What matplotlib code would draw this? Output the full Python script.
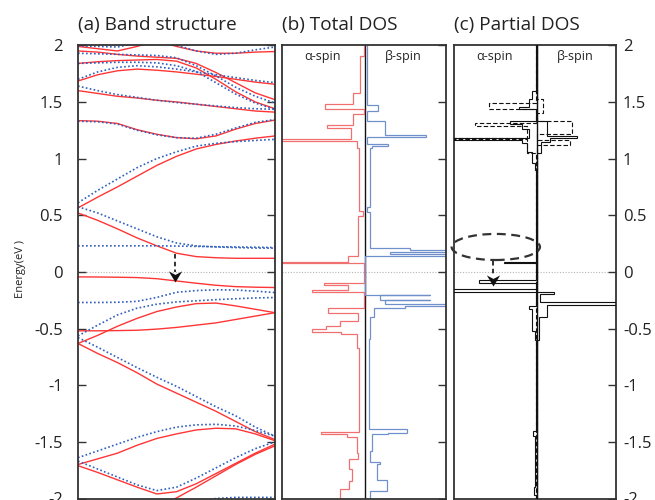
import matplotlib
matplotlib.use("Agg")
import matplotlib.pyplot as plt
from matplotlib.path import Path
from matplotlib.patches import Ellipse

plt.rcParams['font.family'] = ['Open Sans', 'DejaVu Sans']
plt.rcParams['axes.unicode_minus'] = False

# ---------------- band structure (k along path, energies in eV) ----------------
k_path = [0.0, 0.1, 0.2, 0.3, 0.4, 0.5, 0.6, 0.7, 0.8, 0.9, 1.0]

bands_up = [
    [1.99, 1.97, 1.95, 1.99, 2.04, 1.99, 1.95, 1.93, 1.93, 1.94, 1.945],
    [1.95, 1.94, 1.92, 1.905, 1.895, 1.885, 1.84, 1.76, 1.67, 1.58, 1.52],
    [1.84, 1.855, 1.865, 1.87, 1.875, 1.86, 1.80, 1.70, 1.59, 1.50, 1.44],
    [1.685, 1.74, 1.775, 1.79, 1.78, 1.765, 1.745, 1.725, 1.70, 1.675, 1.656],
    [1.60, 1.575, 1.55, 1.535, 1.515, 1.50, 1.48, 1.46, 1.44, 1.42, 1.41],
    [1.335, 1.33, 1.31, 1.255, 1.215, 1.185, 1.175, 1.20, 1.26, 1.31, 1.34],
    [0.565, 0.66, 0.75, 0.845, 0.94, 1.02, 1.085, 1.125, 1.155, 1.18, 1.20],
    [0.52, 0.455, 0.38, 0.30, 0.23, 0.165, 0.135, 0.125, 0.12, 0.12, 0.12],
    [-0.044, -0.045, -0.047, -0.05, -0.06, -0.08, -0.10, -0.118, -0.13, -0.135, -0.138],
    [-0.632, -0.56, -0.48, -0.41, -0.35, -0.31, -0.28, -0.275, -0.30, -0.33, -0.36],
    [-0.52, -0.52, -0.518, -0.515, -0.505, -0.49, -0.47, -0.45, -0.42, -0.39, -0.36],
    [-0.632, -0.72, -0.80, -0.89, -0.99, -1.07, -1.15, -1.23, -1.32, -1.41, -1.48],
    [-1.70, -1.65, -1.60, -1.53, -1.47, -1.43, -1.395, -1.38, -1.385, -1.43, -1.49],
    [-1.71, -1.77, -1.835, -1.90, -1.96, -1.94, -1.87, -1.78, -1.69, -1.60, -1.52],
    [-2.3, -2.25, -2.2, -2.15, -2.08, -1.995, -1.90, -1.80, -1.70, -1.61, -1.535],
]

bands_down = [
    [1.995, 1.99, 1.985, 2.02, 2.04, 2.0, 1.95, 1.92, 1.93, 1.96, 1.985],
    [1.93, 1.925, 1.92, 1.915, 1.91, 1.89, 1.82, 1.73, 1.63, 1.55, 1.49],
    [1.70, 1.765, 1.805, 1.82, 1.81, 1.79, 1.765, 1.74, 1.715, 1.69, 1.67],
    [1.84, 1.845, 1.85, 1.85, 1.845, 1.82, 1.77, 1.67, 1.57, 1.49, 1.435],
    [1.64, 1.60, 1.565, 1.54, 1.515, 1.495, 1.48, 1.465, 1.45, 1.44, 1.435],
    [1.33, 1.325, 1.305, 1.25, 1.21, 1.185, 1.18, 1.215, 1.27, 1.32, 1.345],
    [0.61, 0.72, 0.82, 0.92, 1.0, 1.06, 1.11, 1.135, 1.15, 1.16, 1.17],
    [0.575, 0.52, 0.45, 0.38, 0.31, 0.255, 0.23, 0.22, 0.215, 0.21, 0.21],
    [0.23, 0.23, 0.23, 0.23, 0.23, 0.228, 0.225, 0.222, 0.22, 0.218, 0.215],
    [-0.27, -0.27, -0.268, -0.26, -0.225, -0.18, -0.165, -0.158, -0.16, -0.17, -0.182],
    [-0.565, -0.47, -0.38, -0.32, -0.285, -0.265, -0.255, -0.245, -0.237, -0.23, -0.226],
    [-0.58, -0.665, -0.755, -0.845, -0.93, -1.01, -1.10, -1.19, -1.27, -1.37, -1.45],
    [-1.64, -1.58, -1.52, -1.46, -1.41, -1.37, -1.35, -1.345, -1.36, -1.40, -1.45],
    [-1.67, -1.74, -1.81, -1.88, -1.93, -1.90, -1.82, -1.73, -1.64, -1.56, -1.50],
    [-2.1, -2.1, -2.08, -2.06, -2.05, -2.04, -2.02, -2.0, -1.99, -1.99, -1.99],
]

# ---------------- total DOS (step histograms, arbitrary units) ----------------
tdos_up_edges = [2.0, 1.905, 1.58, 1.48, 1.435, 1.39, 1.30, 1.27, 1.17, 1.155, 1.09,
                 0.54, 0.49, 0.14, 0.085, 0.075, -0.094, -0.115, -0.162, -0.18, -0.315,
                 -0.365, -0.43, -0.475, -0.505, -0.53, -0.55, -0.675, -1.415, -1.43,
                 -1.46, -1.595, -1.65, -1.74, -1.845, -1.92, -2.0]
tdos_up = [0.12, 0.61, 1.43, 4.88, 0.18, 1.43, 4.6, 1.71, 10.5, 0.94, 0.73, 0.21, 0.85,
           2.04, 10.5, 0.09, 4.96, 2.04, 6.43, 0.09, 4.48, 0.89, 3.05, 4.76, 6.5, 2.93,
           0.94, 0.7, 5.37, 2.23, 1.01, 0.82, 1.95, 1.62, 1.95, 3.05]

tdos_dn_edges = [2.0, 1.72, 1.47, 1.42, 1.33, 1.21, 1.19, 1.13, 1.11, 1.09, 0.57, 0.53,
                 0.21, 0.19, 0.175, 0.16, 0.14, -0.20, -0.205, -0.245, -0.25, -0.285,
                 -0.30, -0.315, -0.40, -0.59, -1.39, -1.42, -1.435, -1.58, -1.68, -1.695,
                 -1.84, -1.93, -2.0]
tdos_dn = [0.28, 0.21, 1.62, 0.21, 2.44, 7.44, 0.21, 2.8, 0.82, 0.61, 0.21, 0.61, 5.49,
           10.5, 3.05, 10.5, 0.04, 7.93, 1.83, 7.93, 2.44, 10.5, 4.88, 1.1, 0.61, 0.52,
           5.12, 2.8, 0.89, 0.61, 1.83, 1.43, 2.65, 0.61]

# ---------------- partial DOS (two projections, solid / dashed) ----------------
pdos_up_a_edges = [2.0, 1.60, 1.53, 1.455, 1.44, 1.335, 1.305, 1.26, 1.185, 1.165, 1.135,
                   1.06, 0.96, 0.90, 0.09, 0.075, -0.075, -0.10, -0.155, -0.18, -0.30,
                   -0.33, -0.52, -0.60, -1.40, -1.45, -1.90, -1.97, -2.0]
pdos_up_a = [0.06, 0.61, 0.98, 2.2, 0.1, 3.29, 1.83, 0.98, 10.5, 1.83, 1.22, 0.61, 0.24,
             0.06, 4.02, 0.06, 7.07, 0.06, 10.5, 0.06, 0.98, 0.61, 0.24, 0.12, 0.49,
             0.18, 0.37, 0.12]
pdos_up_b_edges = [2.0, 1.49, 1.44, 1.315, 1.285, 1.185, 1.17, 1.05, -2.0]
pdos_up_b = [0.04, 5.85, 0.04, 7.56, 1.22, 10.5, 1.22, 0.04]

pdos_dn_a_edges = [2.0, 1.335, 1.20, 1.18, 1.15, 1.05, -0.18, -0.195, -0.265, -0.29,
                   -0.40, -0.60, -2.0]
pdos_dn_a = [0.06, 1.22, 4.88, 1.59, 0.49, 0.06, 2.07, 0.37, 10.5, 1.22, 0.24, 0.06]
pdos_dn_b_edges = [2.0, 1.53, 1.40, 1.33, 1.22, 1.16, 1.12, -2.0]
pdos_dn_b = [0.04, 0.73, 0.04, 4.27, 0.04, 4.02, 0.04]

e_ticks = [-2, -1.5, -1, -0.5, 0, 0.5, 1, 1.5, 2]
e_tick_labels = ['-2', '-1.5', '-1', '-0.5', '0', '0.5', '1', '1.5', '2']

# ---------------- figure ----------------
W, H = 655, 500
fig = plt.figure(figsize=(W / 100, H / 100), dpi=100)

def box(x0, x1, ytop=45.3, ybot=498.5):
    return [x0 / W, 1 - ybot / H, (x1 - x0) / W, (ybot - ytop) / H]

ax_a = fig.add_axes(box(78, 275))
ax_b = fig.add_axes(box(282.3, 445.7))
ax_c = fig.add_axes(box(454.3, 616))

frame_col = '#333333'
text_col = '#222222'

for ax in (ax_a, ax_b, ax_c):
    ax.set_ylim(-2, 2)
    ax.set_yticks(e_ticks)
    for sp in ax.spines.values():
        sp.set_color(frame_col)
        sp.set_linewidth(1.3)
    ax.set_xticks([])
    ax.tick_params(axis='y', direction='in', length=5.8, width=1.0, color=frame_col,
                   labelsize=12, labelcolor=text_col)
    ax.axhline(0, color='#b5b5b5', lw=0.8, ls=(0, (1, 1.5)), zorder=0)

# (a) band structure
ax_a.set_xlim(0, 1)
ax_a.tick_params(axis='y', left=True, right=True, labelleft=True, labelright=False, pad=11)
ax_a.set_yticklabels(e_tick_labels)
for b in bands_up:
    ax_a.plot(k_path, b, color='#ff3535', lw=1.0, solid_joinstyle='round')
for b in bands_down:
    ax_a.plot(k_path, b, color='#2f5fbf', lw=1.2, ls=(0, (1.0, 1.4)))

fig.text(21 / W, 1 - 269 / H, 'Energy(eV )', fontsize=8, color=text_col,
         rotation=90, ha='center', va='center')

stealth = Path([(0, 0), (-0.6, 1.0), (0, 0.68), (0.6, 1.0), (0, 0)],
               [Path.MOVETO, Path.LINETO, Path.LINETO, Path.LINETO, Path.CLOSEPOLY])

ax_a.plot([0.49, 0.49], [0.16, 0.0], color='#222222', lw=1.3, ls=(0, (2.5, 1.8)))
ax_a.plot([0.49], [-0.09], marker=stealth, ms=16, color='#111111', mec='#111111', mew=0)

# (b) total DOS
ax_b.set_xlim(-10.09, 9.84)
ax_b.tick_params(axis='y', left=False, right=True, labelleft=False, labelright=False)
ax_b.axvline(0, color='#111111', lw=1.0, zorder=1)
ax_b.stairs([-v for v in tdos_up[::-1]], tdos_up_edges[::-1], orientation='horizontal',
            baseline=None, color='#f07070', lw=0.9, zorder=2)
ax_b.stairs(tdos_dn[::-1], tdos_dn_edges[::-1], orientation='horizontal',
            baseline=None, color='#7090cc', lw=0.9, zorder=2)
ax_b.text(-5.2, 1.9, 'α-spin', fontsize=9, color=text_col, ha='center', va='center')
ax_b.text(4.65, 1.9, 'β-spin', fontsize=9, color=text_col, ha='center', va='center')

# (c) partial DOS
ax_c.set_xlim(-10.05, 9.67)
ax_c.tick_params(axis='y', left=False, right=True, labelleft=False, labelright=True, pad=5)
ax_c.set_yticklabels(e_tick_labels)
ax_c.axvline(0, color='#111111', lw=1.0, zorder=1)
ax_c.stairs([-v for v in pdos_up_a[::-1]], pdos_up_a_edges[::-1], orientation='horizontal',
            baseline=None, color='#111111', lw=0.8, zorder=3)
ax_c.stairs([-v for v in pdos_up_b[::-1]], pdos_up_b_edges[::-1], orientation='horizontal',
            baseline=None, color='#111111', lw=0.8, ls=(0, (4, 2)), zorder=3)
ax_c.stairs(pdos_dn_a[::-1], pdos_dn_a_edges[::-1], orientation='horizontal',
            baseline=None, color='#111111', lw=0.8, zorder=3)
ax_c.stairs(pdos_dn_b[::-1], pdos_dn_b_edges[::-1], orientation='horizontal',
            baseline=None, color='#111111', lw=0.8, ls=(0, (4, 2)), zorder=3)
ax_c.text(-5.2, 1.9, 'α-spin', fontsize=9, color=text_col, ha='center', va='center')
ax_c.text(4.7, 1.9, 'β-spin', fontsize=9, color=text_col, ha='center', va='center')

ax_c.add_patch(Ellipse((-4.99, 0.22), 10.77, 0.23, fill=False, ec='#333333', lw=1.6,
                       ls=(0, (4, 2.5)), clip_on=False, zorder=4))
ax_c.plot([-5.29, -5.29], [0.10, -0.03], color='#222222', lw=1.3, ls=(0, (2.5, 1.8)))
ax_c.plot([-5.29], [-0.124], marker=stealth, ms=16, color='#111111', mec='#111111', mew=0,
          zorder=5)

# panel titles
for x0, title in ((78, '(a) Band structure'), (282.3, '(b) Total DOS'),
                  (454.3, '(c) Partial DOS')):
    fig.text(x0 / W, 1 - 30 / H, title, fontsize=13.7, color=text_col,
             ha='left', va='baseline')

fig.savefig('out.png', dpi=100)
